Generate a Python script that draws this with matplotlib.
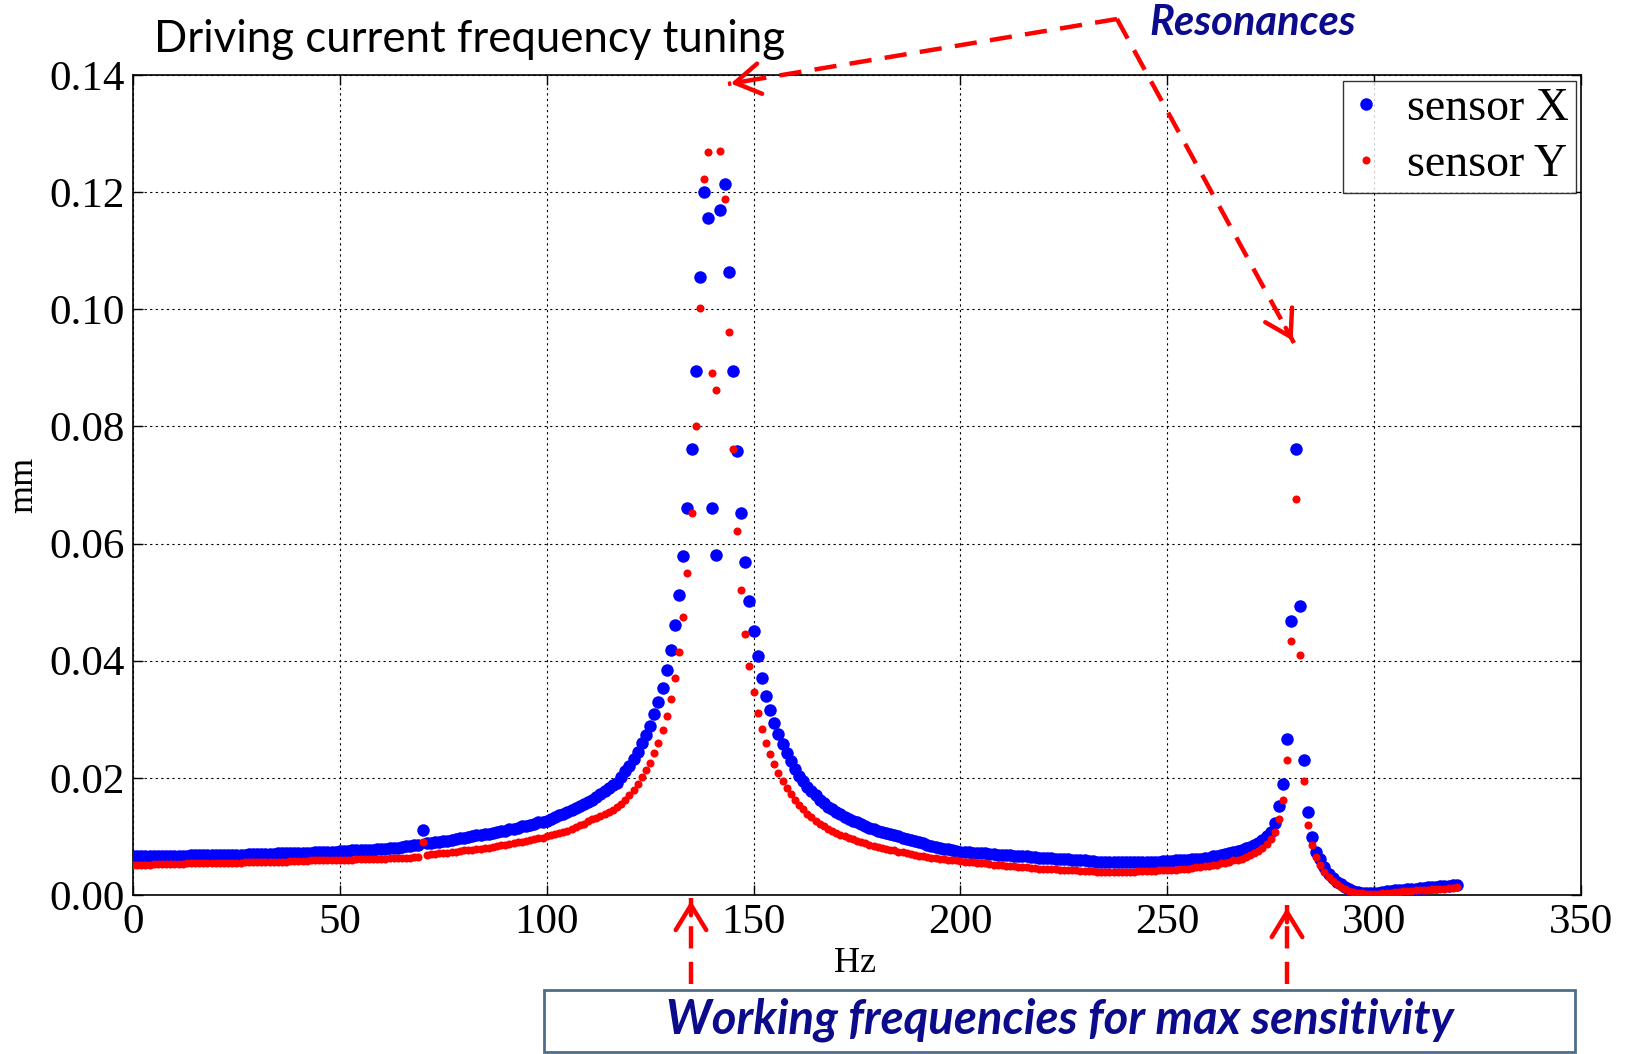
import matplotlib
matplotlib.use("Agg")
import matplotlib.pyplot as plt
from matplotlib.lines import Line2D
from matplotlib.patches import Rectangle, FancyArrowPatch
import numpy as np

# drive frequency sweep, 1 Hz steps
freq_hz = np.arange(0, 321)

# displacement amplitude in micrometres
sensor_x_um = [
    6.6, 6.6, 6.6, 6.6, 6.6, 6.6, 6.7, 6.7, 6.7, 6.7,
    6.7, 6.7, 6.7, 6.7, 6.8, 6.8, 6.8, 6.8, 6.8, 6.8,
    6.8, 6.8, 6.9, 6.9, 6.9, 6.9, 6.9, 6.9, 7.0, 7.0,
    7.0, 7.0, 7.0, 7.0, 7.0, 7.1, 7.1, 7.1, 7.1, 7.1,
    7.2, 7.2, 7.2, 7.2, 7.3, 7.3, 7.3, 7.3, 7.4, 7.4,
    7.5, 7.5, 7.5, 7.6, 7.6, 7.6, 7.7, 7.7, 7.7, 7.8,
    7.8, 7.9, 8.0, 8.0, 8.1, 8.2, 8.3, 8.4, 8.5, 8.6,
    11.1, 8.8, 8.9, 9.0, 9.1, 9.2, 9.3, 9.4, 9.5, 9.7,
    9.8, 9.9, 10.0, 10.2, 10.3, 10.4, 10.5, 10.6, 10.7, 10.9,
    11.0, 11.2, 11.3, 11.5, 11.7, 11.8, 12.0, 12.2, 12.4, 12.5,
    12.7, 13.0, 13.3, 13.6, 13.9, 14.2, 14.5, 14.8, 15.2, 15.5,
    15.9, 16.3, 16.8, 17.3, 17.8, 18.3, 18.7, 19.2, 20.1, 21.1,
    22.1, 23.2, 24.4, 25.9, 27.3, 28.9, 30.9, 33.0, 35.4, 38.4,
    41.9, 46.1, 51.2, 57.8, 66.0, 76.1, 89.4, 105.5, 120.0, 115.6,
    66.1, 58.0, 117.0, 121.4, 106.4, 89.4, 75.8, 65.2, 56.8, 50.2,
    45.1, 40.8, 37.1, 34.0, 31.6, 29.3, 27.5, 25.7, 24.2, 22.8,
    21.5, 20.4, 19.4, 18.5, 17.7, 17.0, 16.3, 15.7, 15.1, 14.6,
    14.2, 13.8, 13.4, 13.0, 12.7, 12.4, 12.1, 11.8, 11.5, 11.3,
    11.0, 10.8, 10.6, 10.4, 10.2, 10.0, 9.8, 9.6, 9.4, 9.2,
    9.0, 8.8, 8.6, 8.4, 8.2, 8.1, 7.9, 7.8, 7.6, 7.5,
    7.4, 7.3, 7.3, 7.2, 7.2, 7.1, 7.1, 7.0, 7.0, 6.9,
    6.9, 6.8, 6.8, 6.7, 6.7, 6.6, 6.6, 6.5, 6.5, 6.4,
    6.4, 6.3, 6.3, 6.2, 6.2, 6.1, 6.1, 6.0, 6.0, 5.9,
    5.9, 5.8, 5.8, 5.7, 5.7, 5.7, 5.6, 5.6, 5.6, 5.6,
    5.6, 5.6, 5.6, 5.6, 5.6, 5.7, 5.7, 5.7, 5.7, 5.8,
    5.8, 5.8, 5.9, 5.9, 6.0, 6.0, 6.1, 6.2, 6.2, 6.3,
    6.4, 6.6, 6.7, 6.8, 7.0, 7.1, 7.3, 7.5, 7.7, 8.0,
    8.2, 8.5, 8.9, 9.4, 10.0, 10.8, 12.3, 15.2, 18.9, 26.6,
    46.7, 76.2, 49.4, 23.1, 14.1, 9.9, 7.4, 6.1, 4.7, 3.6,
    2.9, 2.3, 1.9, 1.4, 1.0, 0.7, 0.5, 0.4, 0.3, 0.3,
    0.3, 0.4, 0.5, 0.6, 0.7, 0.8, 0.8, 0.9, 1.0, 1.0,
    1.1, 1.2, 1.2, 1.3, 1.4, 1.4, 1.5, 1.5, 1.6, 1.7,
    1.7,
]

sensor_y_um = [
    5.2, 5.2, 5.2, 5.2, 5.2, 5.3, 5.3, 5.3, 5.3, 5.3,
    5.3, 5.3, 5.3, 5.4, 5.4, 5.4, 5.4, 5.4, 5.4, 5.4,
    5.4, 5.5, 5.5, 5.5, 5.5, 5.5, 5.5, 5.6, 5.6, 5.6,
    5.6, 5.6, 5.6, 5.7, 5.7, 5.7, 5.7, 5.7, 5.8, 5.8,
    5.8, 5.8, 5.8, 5.9, 5.9, 5.9, 5.9, 5.9, 6.0, 6.0,
    6.0, 6.0, 6.0, 6.0, 6.1, 6.1, 6.1, 6.1, 6.1, 6.2,
    6.2, 6.2, 6.3, 6.3, 6.3, 6.4, 6.4, 6.4, 6.5, 6.5,
    9.0, 6.9, 7.0, 7.0, 7.1, 7.2, 7.2, 7.3, 7.4, 7.5,
    7.6, 7.7, 7.7, 7.8, 7.9, 8.0, 8.1, 8.2, 8.3, 8.5,
    8.6, 8.7, 8.8, 9.0, 9.1, 9.2, 9.4, 9.5, 9.7, 9.8,
    10.0, 10.2, 10.4, 10.6, 10.8, 11.0, 11.3, 11.6, 11.9, 12.2,
    12.6, 12.9, 13.2, 13.5, 13.8, 14.1, 14.5, 15.0, 15.6, 16.3,
    17.1, 18.0, 19.0, 20.2, 21.3, 22.6, 24.2, 26.0, 28.1, 30.5,
    33.5, 37.1, 41.5, 47.4, 55.0, 65.2, 80.1, 100.3, 122.3, 126.8,
    89.1, 86.3, 127.1, 118.9, 96.2, 76.2, 62.1, 52.0, 44.6, 39.1,
    34.7, 31.1, 28.3, 25.9, 24.0, 22.3, 20.8, 19.4, 18.2, 17.2,
    16.2, 15.4, 14.6, 13.9, 13.3, 12.7, 12.2, 11.7, 11.3, 10.9,
    10.6, 10.3, 10.0, 9.7, 9.5, 9.3, 9.0, 8.8, 8.6, 8.4,
    8.2, 8.0, 7.9, 7.7, 7.6, 7.4, 7.3, 7.1, 7.0, 6.9,
    6.7, 6.6, 6.5, 6.4, 6.3, 6.2, 6.1, 6.0, 5.9, 5.9,
    5.8, 5.7, 5.7, 5.6, 5.5, 5.4, 5.4, 5.3, 5.2, 5.2,
    5.1, 5.0, 5.0, 4.9, 4.8, 4.8, 4.7, 4.6, 4.6, 4.5,
    4.5, 4.4, 4.4, 4.4, 4.3, 4.3, 4.2, 4.2, 4.2, 4.1,
    4.1, 4.1, 4.1, 4.0, 4.0, 4.0, 4.0, 4.0, 4.0, 4.0,
    4.0, 4.0, 4.0, 4.1, 4.1, 4.1, 4.1, 4.1, 4.2, 4.2,
    4.2, 4.3, 4.3, 4.4, 4.4, 4.5, 4.6, 4.7, 4.8, 4.9,
    5.0, 5.1, 5.2, 5.4, 5.5, 5.7, 5.9, 6.0, 6.2, 6.5,
    6.8, 7.1, 7.5, 8.0, 8.7, 9.5, 10.7, 13.0, 16.2, 23.0,
    43.3, 67.6, 41.0, 19.4, 11.9, 8.5, 6.5, 5.2, 4.0, 3.1,
    2.4, 1.8, 1.4, 1.0, 0.7, 0.5, 0.4, 0.3, 0.2, 0.2,
    0.2, 0.2, 0.3, 0.4, 0.4, 0.5, 0.5, 0.6, 0.7, 0.7,
    0.8, 0.8, 0.9, 0.9, 1.0, 1.0, 1.1, 1.1, 1.2, 1.2,
    1.3,
]

x_ticks = [0, 50, 100, 150, 200, 250, 300, 350]
y_ticks = [0.00, 0.02, 0.04, 0.06, 0.08, 0.10, 0.12, 0.14]

serif = "Liberation Serif"
sans = "Lato"
navy = "#0b0b8c"

W, H = 1630, 1054
fig = plt.figure(figsize=(W / 100, H / 100), dpi=100)
ax = fig.add_axes([133 / W, 1 - 895 / H, 1448 / W, 820 / H])

sx = np.array(sensor_x_um) / 1000.0
sy = np.array(sensor_y_um) / 1000.0
ax.plot(freq_hz, sx, "o", color="#0000ff", ms=9, mew=0, label="sensor X", zorder=3)
ax.plot(freq_hz, sy, "o", color="#ff0000", ms=5.8, mew=0, label="sensor Y", zorder=4)

ax.set_xlim(0, 350)
ax.set_ylim(0, 0.14)
ax.set_xticks(x_ticks)
ax.set_yticks(y_ticks)
ax.set_xticklabels([str(t) for t in x_ticks], fontfamily=serif, fontsize=31)
ax.set_yticklabels([f"{t:.2f}" for t in y_ticks], fontfamily=serif, fontsize=31)
ax.tick_params(direction="in", length=7, width=1, top=True, right=True, pad=6)
ax.grid(True, color="black", linestyle=(0, (2, 3)), linewidth=0.8)
for s in ax.spines.values():
    s.set_linewidth(1.2)

ax.set_xlabel("Hz", fontfamily=serif, fontsize=26)
ax.set_ylabel("mm", fontfamily=serif, fontsize=26)
ax.xaxis.set_label_coords(0.4986, -0.064)
ax.yaxis.set_label_coords(-0.064, 0.5)

leg = ax.legend(loc="upper right", prop={"family": serif, "size": 33}, frameon=True,
                fancybox=False, edgecolor="black", borderaxespad=0.12,
                handlelength=0.7, handletextpad=0.55, borderpad=0.15, labelspacing=0.3)
leg.get_frame().set_linewidth(1.0)


def fx(px):
    return px / W


def fy(py):
    return 1 - py / H


fig.text(fx(470), fy(40), "Driving current frequency tuning", fontfamily=sans,
         fontsize=31.5, ha="center", va="center", color="black")
fig.text(fx(1253), fy(23), "Resonances", fontfamily=sans, fontsize=30,
         fontweight="bold", fontstyle="italic", color=navy, ha="center", va="center")


def dashed_arrow(x0, y0, x1, y1):
    # dashed shaft plus a solid open head at the tip
    fig.add_artist(Line2D([fx(x0), fx(x1)], [fy(y0), fy(y1)], transform=fig.transFigure,
                          color="#ff0000", lw=3.2, linestyle=(0, (5, 3))))
    d = np.hypot(x1 - x0, y1 - y0)
    bx = x1 - (x1 - x0) / d * 20
    by = y1 - (y1 - y0) / d * 20
    fig.add_artist(FancyArrowPatch(
        (fx(bx), fy(by)), (fx(x1), fy(y1)), transform=fig.transFigure,
        arrowstyle="->,head_length=0.9,head_width=0.55", mutation_scale=20,
        color="#ff0000", lw=3.2))


dashed_arrow(1117, 19, 728, 84)
dashed_arrow(1117, 19, 1294, 343)
dashed_arrow(691, 984, 691, 898)
dashed_arrow(1287, 984, 1287, 905)

fig.add_artist(Rectangle((fx(544), fy(1052)), (1575 - 544) / W, 62 / H,
                         transform=fig.transFigure, facecolor="white",
                         edgecolor="#4f6d8a", lw=2))
fig.text(fx(1060), fy(1020), "Working frequencies for max sensitivity", fontfamily=sans,
         fontsize=34, fontweight="bold", fontstyle="italic", color=navy,
         ha="center", va="center")

fig.savefig("out.png", dpi=100)
